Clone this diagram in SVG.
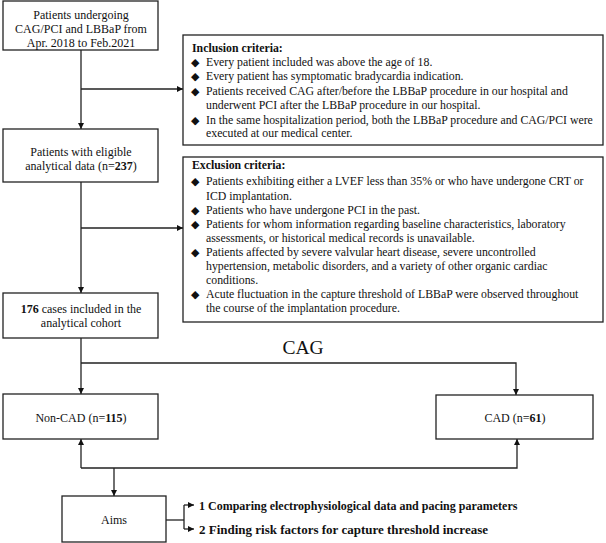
<svg xmlns="http://www.w3.org/2000/svg" width="606" height="543" viewBox="0 0 606 543">
<defs>
<marker id="ah" viewBox="0 0 10 10" refX="10" refY="5" markerWidth="7" markerHeight="6" markerUnits="userSpaceOnUse" orient="auto">
<path d="M0,0 L10,5 L0,10 z" fill="#111"/>
</marker>
<style>
.box{fill:#fff;stroke:#222;stroke-width:1.3}
.ln{fill:none;stroke:#222;stroke-width:1.3}
.t{font-family:"Liberation Serif","Times New Roman",serif;font-size:12px;fill:#111}
.c{text-anchor:middle}
.s{font-family:"Liberation Serif","Times New Roman",serif;font-size:11.8px;fill:#111}
.d{font-family:"DejaVu Sans",sans-serif;font-size:11px;fill:#111}
.b{font-weight:bold}
.cag{font-family:"Liberation Serif","Times New Roman",serif;font-size:19.5px;fill:#111;text-anchor:middle}
.aim{font-family:"Liberation Serif","Times New Roman",serif;font-size:12px;font-weight:bold;fill:#111}
</style>
</defs>
<rect width="606" height="543" fill="#fff"/>
<g id="connectors">
<line class="ln" x1="81" y1="50" x2="81" y2="129" marker-end="url(#ah)"/>
<line class="ln" x1="81" y1="89" x2="183" y2="89" marker-end="url(#ah)"/>
<line class="ln" x1="81" y1="182" x2="81" y2="293" marker-end="url(#ah)"/>
<line class="ln" x1="81" y1="228" x2="183" y2="228" marker-end="url(#ah)"/>
<line class="ln" x1="81" y1="338" x2="81" y2="394" marker-end="url(#ah)"/>
<polyline class="ln" points="81,363 516,363 516,395" marker-end="url(#ah)"/>
<line class="ln" x1="81" y1="468" x2="81" y2="439" marker-end="url(#ah)"/>
<polyline class="ln" points="81,468 517,468 517,439" marker-end="url(#ah)"/>
<line class="ln" x1="114" y1="468" x2="114" y2="496" marker-end="url(#ah)"/>
<line class="ln" x1="166" y1="520" x2="184" y2="520"/>
<line class="ln" x1="184" y1="505" x2="184" y2="529"/>
<line class="ln" x1="184" y1="505" x2="194" y2="505" marker-end="url(#ah)"/>
<line class="ln" x1="184" y1="529" x2="194" y2="529" marker-end="url(#ah)"/>
</g>
<g id="start">
<rect class="box" x="3" y="1" width="155" height="49"/>
<text class="t c" x="81" y="19">Patients undergoing</text>
<text class="t c" x="81" y="33">CAG/PCI and LBBaP from</text>
<text class="t c" x="81" y="46.5">Apr. 2018 to Feb.2021</text>
</g>
<g id="inclusion">
<rect class="box" x="183" y="35" width="420" height="110"/>
<text class="s b" x="192" y="52">Inclusion criteria:</text>
<text class="d" x="191" y="66">◆</text>
<text class="s" x="206" y="66">Every patient included was above the age of 18.</text>
<text class="d" x="191" y="80">◆</text>
<text class="s" x="206" y="80">Every patient has symptomatic bradycardia indication.</text>
<text class="d" x="191" y="95">◆</text>
<text class="s" x="206" y="95">Patients received CAG after/before the LBBaP procedure in our hospital and</text>
<text class="s" x="206" y="109">underwent PCI after the LBBaP procedure in our hospital.</text>
<text class="d" x="191" y="124">◆</text>
<text class="s" x="206" y="124">In the same hospitalization period, both the LBBaP procedure and CAG/PCI were</text>
<text class="s" x="206" y="137">executed at our medical center.</text>
</g>
<g id="eligible">
<rect class="box" x="3" y="129" width="155" height="53"/>
<text class="t c" x="81" y="156">Patients with eligible</text>
<text class="t c" x="81" y="170">analytical data (n=<tspan class="b">237</tspan>)</text>
</g>
<g id="exclusion">
<rect class="box" x="183" y="157" width="420" height="165"/>
<text class="s b" x="192" y="169">Exclusion criteria:</text>
<text class="d" x="191" y="185">◆</text>
<text class="s" x="206" y="185">Patients exhibiting either a LVEF less than 35% or who have undergone CRT or</text>
<text class="s" x="206" y="199.5">ICD implantation.</text>
<text class="d" x="191" y="213.5">◆</text>
<text class="s" x="206" y="213.5">Patients who have undergone PCI in the past.</text>
<text class="d" x="191" y="228">◆</text>
<text class="s" x="206" y="228">Patients for whom information regarding baseline characteristics, laboratory</text>
<text class="s" x="206" y="241.5">assessments, or historical medical records is unavailable.</text>
<text class="d" x="191" y="255.5">◆</text>
<text class="s" x="206" y="255.5">Patients affected by severe valvular heart disease, severe uncontrolled</text>
<text class="s" x="206" y="270">hypertension, metabolic disorders, and a variety of other organic cardiac</text>
<text class="s" x="206" y="283.5">conditions.</text>
<text class="d" x="191" y="298">◆</text>
<text class="s" x="206" y="298">Acute fluctuation in the capture threshold of LBBaP were observed throughout</text>
<text class="s" x="206" y="311.5">the course of the implantation procedure.</text>
</g>
<g id="cohort">
<rect class="box" x="3" y="293" width="155" height="45"/>
<text class="t c" x="81" y="313"><tspan class="b">176</tspan> cases included in the</text>
<text class="t c" x="81" y="327">analytical cohort</text>
</g>
<g id="cag-label">
<text class="cag" x="303" y="354">CAG</text>
</g>
<g id="noncad">
<rect class="box" x="3" y="394" width="155" height="45"/>
<text class="t c" x="81" y="422">Non-CAD (n=<tspan class="b">115</tspan>)</text>
</g>
<g id="cad">
<rect class="box" x="436" y="395" width="157" height="44"/>
<text class="t c" x="515" y="422">CAD (n=<tspan class="b">61</tspan>)</text>
</g>
<g id="aims">
<rect class="box" x="62" y="496" width="104" height="46"/>
<text class="t c" x="114" y="524">Aims</text>
<text class="aim" x="199" y="509.5">1 Comparing electrophysiological data and pacing parameters</text>
<text class="aim" x="199" y="534" style="font-size:13px">2 Finding risk factors for capture threshold increase</text>
</g>
</svg>
